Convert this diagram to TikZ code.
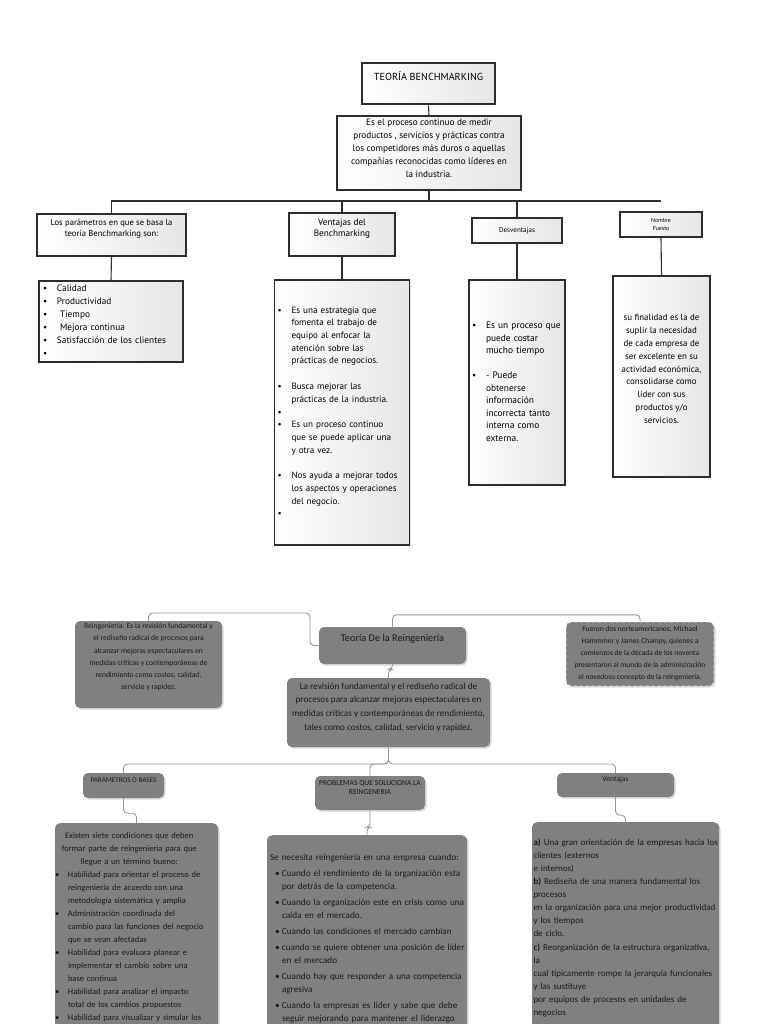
\documentclass[tikz,border=0pt]{standalone}
\usepackage{fontspec}
\setmainfont{Carlito}
\newfontfamily\bmfont{PT Sans}
\usetikzlibrary{shadows}
\definecolor{bmline}{RGB}{45,45,45}
\definecolor{regray}{RGB}{128,128,128}
\definecolor{reink}{RGB}{26,26,26}
\definecolor{relink}{RGB}{150,150,150}
\newcommand\fs[2]{\fontsize{#1}{#2}\selectfont}
\newcommand\tail[1]{\rule[-#1]{0pt}{#1}}

\begin{document}
\begin{tikzpicture}[x=1pt,y=-1pt,
    bmbox/.style={draw=bmline, line width=1.4pt, left color=white, right color=black!10,
      drop shadow={shadow xshift=1.2pt, shadow yshift=-1.2pt, opacity=0.25},
      inner sep=0pt, align=center},
    bmlink/.style={draw=bmline, line width=1.1pt},
    bmthick/.style={draw=bmline, line width=2.6pt},
    rebox/.style={fill=regray, rounded corners=5pt, text=reink, inner sep=0pt, align=center,
      drop shadow={shadow xshift=1.5pt, shadow yshift=-1.5pt, opacity=0.3}},
    relink/.style={draw=relink, line width=0.9pt, rounded corners=4pt}]
    \clip (0,0) rectangle (768,1024);

    % Teoria Benchmarking
    \node[bmbox, line width=2.8pt, minimum width=133pt, minimum height=41pt,
      font=\bmfont\fs{10.2}{12}] (title) at (428.5,83.5) {TEORÍA BENCHMARKING\tail{15pt}};
    \node[bmbox, minimum width=184pt, minimum height=74pt, font=\bmfont\fs{9.2}{13}] (def) at (429,153)
      {Es el proceso continuo de medir\\ productos , servicios y prácticas contra\\
       los competidores más duros o aquellas\\ compañías reconocidas como líderes en\\ la industria.\tail{10pt}};

    \node[bmbox, minimum width=149pt, minimum height=42pt, font=\bmfont\fs{8.6}{10.5}] (params) at (111.5,235)
      {Los parámetros en que se basa la\\ teoría Benchmarking son:\tail{14pt}};
    \node[bmbox, minimum width=106pt, minimum height=43pt, font=\bmfont\fs{9.2}{11}] (adv) at (342,234.5)
      {Ventajas del\\ Benchmarking\tail{14pt}};
    \node[bmbox, minimum width=90pt, minimum height=25pt, font=\bmfont\fs{7}{8}] (dis) at (517,230.5)
      {Desventajas};
    \node[bmbox, minimum width=82pt, minimum height=25pt, font=\bmfont\fs{5.8}{8}] (name) at (661,224.5)
      {Nombre\\ Puesto};

    \node[bmbox, minimum width=144pt, minimum height=81pt, text width=136pt, inner xsep=4pt, align=left,
      font=\bmfont\fs{9.3}{13}] (paramsList) at (111,321.5)
      {\begin{tabular}{@{}p{14pt}@{}l@{}}
       \textbullet & Calidad\\
       \textbullet & Productividad\\
       \textbullet & \ Tiempo\\
       \textbullet & \ Mejora continua\\
       \textbullet & Satisfacción de los clientes\\
       \textbullet &
       \end{tabular}};
    \node[bmbox, minimum width=135pt, minimum height=265pt, text width=129pt, inner xsep=3pt, align=left,
      font=\bmfont\fs{9.1}{12.7}] (advList) at (342,412.5)
      {\begin{tabular}{@{}p{14pt}@{}l@{}}
       \textbullet & Es una estrategia que\\
       & fomenta el trabajo de\\
       & equipo al enfocar la\\
       & atención sobre las\\
       & prácticas de negocios.\\[13pt]
       \textbullet & Busca mejorar las\\
       & prácticas de la industria.\\
       \textbullet & \\
       \textbullet & Es un proceso continuo\\
       & que se puede aplicar una\\
       & y otra vez.\\[13pt]
       \textbullet & Nos ayuda a mejorar todos\\
       & los aspectos y operaciones\\
       & del negocio.\\
       \textbullet &
       \end{tabular}};
    \node[bmbox, minimum width=96pt, minimum height=205pt, text width=90pt, inner xsep=3pt, align=left,
      font=\bmfont\fs{9.4}{12.6}] (disList) at (517,382.5)
      {\begin{tabular}{@{}p{14pt}@{}l@{}}
       \textbullet & Es un proceso que\\
       & puede costar\\
       & mucho tiempo\\[12pt]
       \textbullet & - Puede\\
       & obtenerse\\
       & información\\
       & incorrecta tanto\\
       & interna como\\
       & externa.
       \end{tabular}\tail{14pt}};
    \node[bmbox, minimum width=97pt, minimum height=201pt, font=\bmfont\fs{8.9}{12.8}] (nameList) at (661.5,376.5)
      {su finalidad es la de\\ suplir la necesidad\\ de cada empresa de\\ ser excelente en su\\
       actividad económica,\\ consolidarse como\\ líder con sus\\ productos y/o\\ servicios.\tail{15pt}};

    \coordinate (bmHub) at (429,201);
    \draw[bmlink] (title.south) -- (def.north);
    \draw[bmlink] (def.south) -- (bmHub);
    \draw[bmlink] (params.north) |- (name.north |- bmHub);
    \draw[bmlink] (adv.north) -- (adv.north |- bmHub);
    \draw[bmthick] (bmHub) -| (dis.north);
    \draw[bmlink] (params.south) -- (paramsList.north);
    \draw[bmlink] (adv.south) -- (advList.north);
    \draw[bmthick] (dis.south) -- (disList.north);
    \draw[bmlink] (name.south) -- (nameList.north);

    % Teoria de la Reingenieria
    \node[rebox, minimum width=147pt, minimum height=87pt, font=\fs{7.6}{12.2}] (reLeft) at (148.5,664.5)
      {Reingeniería: Es la revisión fundamental y\\ el rediseño radical de procesos para\\
       alcanzar mejoras espectaculares en\\ medidas críticas y contemporáneas de\\
       rendimiento como costos, calidad,\\ servicio y rapidez.\tail{16pt}};
    \node[rebox, minimum width=147pt, minimum height=37pt, font=\fs{10.3}{12}] (reTheory) at (392.5,645.5)
      {Teoría De la Reingeniería\tail{15pt}};
    \node[rebox, draw=white!85!gray, dashed, line width=0.8pt, minimum width=148pt, minimum height=64pt,
      font=\fs{7.5}{12}] (reHist) at (640,654)
      {Fueron dos norteamericanos, Michael\\ Hammmer y James Champy, quienes a\\
       comienzos de la década de los noventa\\ presentaron al mundo de la administración\\
       el novedoso concepto de la reingeniería.};
    \node[rebox, minimum width=203pt, minimum height=69pt, font=\fs{9.2}{13.6}] (reDef) at (388.5,712.5)
      {La revisión fundamental y el rediseño radical de\\ procesos para alcanzar mejoras espectaculares en\\
       medidas críticas y contemporáneas de rendimiento,\\ tales como costos, calidad, servicio y rapidez.\tail{12pt}};

    \node[rebox, minimum width=81pt, minimum height=25pt, font=\fs{7.1}{8}] (reBases) at (123.5,785.5)
      {PARAMETROS O BASES\tail{11pt}};
    \node[rebox, minimum width=110pt, minimum height=34pt, font=\fs{7.6}{9.3}] (reProb) at (370,793)
      {PROBLEMAS QUE SOLUCIONA LA\\ REINGENERIA\tail{11pt}};
    \node[rebox, minimum width=117pt, minimum height=24pt, font=\fs{7.6}{9}] (reAdv) at (615.5,785)
      {Ventajas\tail{12pt}};

    \node[rebox, anchor=north, minimum width=163pt, text width=163pt, inner ysep=5.9pt, align=left,
      font=\fs{8.5}{13}] (reBasesTxt) at (136.5,823)
      {\begin{tabular}[t]{@{}p{13pt}@{}l@{}}
       \multicolumn{2}{@{}c@{}}{Existen siete condiciones que deben}\\
       \multicolumn{2}{@{}c@{}}{formar parte de reingeniería para que}\\
       \multicolumn{2}{@{}c@{}}{llegue a un término bueno:}\\
       \textbullet & Habilidad para orientar el proceso de\\
       & reingeniería de acuerdo con una\\
       & metodología sistemática y amplia\\
       \textbullet & Administración coordinada del\\
       & cambio para las funciones del negocio\\
       & que se vean afectadas\\
       \textbullet & Habilidad para evaluara planear e\\
       & implementar el cambio sobre una\\
       & base continua\\
       \textbullet & Habilidad para analizar el impacto\\
       & total de los cambios propuestos\\
       \textbullet & Habilidad para visualizar y simular los
       \end{tabular}\tail{260pt}};
    \node[rebox, anchor=north, minimum width=200pt, text width=194pt, inner xsep=3pt, inner ysep=16pt, align=left,
      font=\fs{9.2}{13}] (reProbTxt) at (367,835)
      {\begin{tabular}[t]{@{\hspace{5pt}}p{7pt}@{}l@{}}
       \multicolumn{2}{@{}l@{}}{Se necesita reingeniería en una empresa cuando:}\\[3pt]
       \textbullet & Cuando el rendimiento de la organización esta\\
       & por detrás de la competencia.\\[3pt]
       \textbullet & Cuando la organización este en crisis como una\\
       & caída en el mercado.\\[3pt]
       \textbullet & Cuando las condiciones el mercado cambian\\[3pt]
       \textbullet & cuando se quiere obtener una posición de líder\\
       & en el mercado\\[3pt]
       \textbullet & Cuando hay que responder a una competencia\\
       & agresiva\\[3pt]
       \textbullet & Cuando la empresas es líder y sabe que debe\\
       & seguir mejorando para mantener el liderazgo
       \end{tabular}\tail{240pt}};
    \node[rebox, anchor=north, minimum width=187pt, text width=184pt, inner xsep=1.5pt, inner ysep=13.9pt, align=left,
      font=\fs{9}{13.1}] (reAdvTxt) at (625.5,822)
      {\begin{tabular}[t]{@{}l@{}}
       \textbf{a)} Una gran orientación de la empresas hacia los\\
       clientes (externos\\
       e internos)\\
       \textbf{b)} Rediseña de una manera fundamental los\\
       procesos\\
       en la organización para una mejor productividad\\
       y los tiempos\\
       de ciclo.\\
       \textbf{c)} Reorganización de la estructura organizativa,\\
       la\\
       cual típicamente rompe la jerarquía funcionales\\
       y las sustituye\\
       por equipos de procesos en unidades de\\
       negocios
       \end{tabular}\tail{240pt}};

    \coordinate (reKnee) at (310,613);
    \coordinate (reHub) at (388.5,764);
    \draw[relink] (reLeft.north) |- (reKnee) |- (reTheory.west);
    \draw[relink] (reTheory.north) -- ++(0,-12) -| (reHist.north);
    \draw[relink] (reTheory.south) -- ++(0,5) -| (reDef.north);
    \draw[relink] (reDef.south) -- (reHub) -| (reBases.north);
    \draw[relink] (reDef.south) -- (reHub) -| (reAdv.north);
    \draw[relink] (reDef.south) -- (reHub) -| (reProb.north);
    \draw[relink] (reBases.south) -- ++(0,15) -| (reBasesTxt.north);
    \draw[relink] (reProb.south) -- ++(0,17) -| (reProbTxt.north);
    \draw[relink] (reAdv.south) -- ++(0,18) -| (reAdvTxt.north);
\end{tikzpicture}
\end{document}
